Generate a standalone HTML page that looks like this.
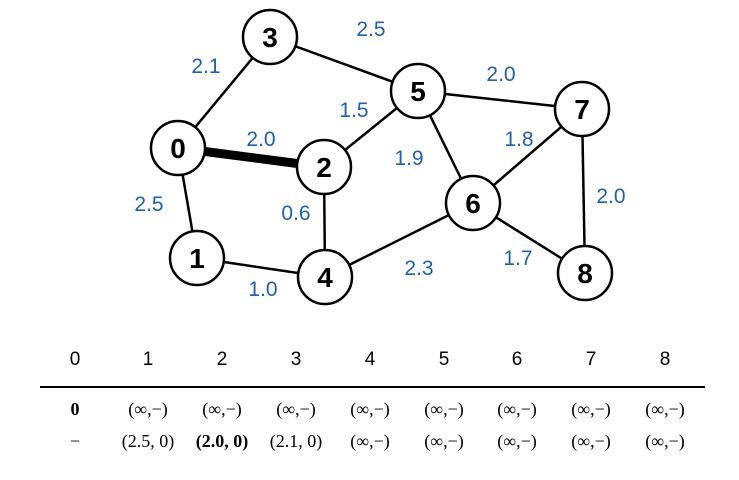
<!DOCTYPE html>
<html><head><style>
body{margin:0;background:#fff;width:739px;height:475px;overflow:hidden}
</style></head><body>
<svg width="739" height="475" xmlns="http://www.w3.org/2000/svg">
<g stroke="#000" stroke-width="2.5">
<line x1="178" y1="148" x2="270" y2="37"/>
<line x1="178" y1="148" x2="197" y2="258"/>
<line x1="270" y1="37" x2="418" y2="91"/>
<line x1="324" y1="167" x2="418" y2="91"/>
<line x1="324" y1="167" x2="325" y2="277"/>
<line x1="197" y1="258" x2="325" y2="277"/>
<line x1="325" y1="277" x2="473" y2="203"/>
<line x1="418" y1="91" x2="582" y2="109"/>
<line x1="418" y1="91" x2="473" y2="203"/>
<line x1="473" y1="203" x2="582" y2="109"/>
<line x1="473" y1="203" x2="585" y2="273"/>
<line x1="582" y1="109" x2="585" y2="273"/>
<line x1="178" y1="148" x2="324" y2="167" stroke-width="9"/>
</g>
<g fill="#fff" stroke="#000" stroke-width="2.5">
<circle cx="178" cy="148" r="27"/><circle cx="270" cy="37" r="27"/>
<circle cx="324" cy="167" r="27"/><circle cx="197" cy="258" r="27"/>
<circle cx="325" cy="277" r="27"/><circle cx="418" cy="91" r="27"/>
<circle cx="582" cy="109" r="27"/><circle cx="473" cy="203" r="27"/>
<circle cx="585" cy="273" r="27"/>
</g>
<g font-family="Liberation Sans,sans-serif" font-weight="bold" font-size="28" text-anchor="middle">
<text x="178" y="158">0</text><text x="270" y="47">3</text>
<text x="324" y="177">2</text><text x="197" y="268">1</text>
<text x="325" y="287">4</text><text x="418" y="101">5</text>
<text x="582" y="119">7</text><text x="473" y="213">6</text>
<text x="585" y="283">8</text>
</g>
<g font-family="Liberation Sans,sans-serif" font-size="21" fill="#1f5fb0" text-anchor="middle">
<text x="206" y="73">2.1</text><text x="371" y="36">2.5</text>
<text x="354" y="117">1.5</text><text x="261" y="146">2.0</text>
<text x="149" y="211">2.5</text><text x="296" y="220">0.6</text>
<text x="263" y="296">1.0</text><text x="409" y="165">1.9</text>
<text x="501" y="81">2.0</text><text x="519" y="146">1.8</text>
<text x="611" y="203">2.0</text><text x="419" y="275">2.3</text>
<text x="518" y="265">1.7</text>
</g>
<g font-family="Liberation Sans,sans-serif" font-size="19" text-anchor="middle">
<text x="75" y="365">0</text><text x="148" y="365">1</text><text x="222" y="365">2</text>
<text x="296" y="365">3</text><text x="370" y="365">4</text><text x="444" y="365">5</text>
<text x="517" y="365">6</text><text x="591" y="365">7</text><text x="665" y="365">8</text>
</g>
<line x1="40" y1="387" x2="705" y2="387" stroke="#000" stroke-width="2"/>
<g font-family="Liberation Serif,serif" font-size="18" text-anchor="middle">
<text x="75" y="415" font-weight="bold">0</text>
<text x="148" y="415">(∞,−)</text><text x="222" y="415">(∞,−)</text>
<text x="296" y="415">(∞,−)</text><text x="370" y="415">(∞,−)</text>
<text x="444" y="415">(∞,−)</text><text x="517" y="415">(∞,−)</text>
<text x="591" y="415">(∞,−)</text><text x="665" y="415">(∞,−)</text>
<text x="75" y="447">−</text>
<text x="148" y="447">(2.5, 0)</text><text x="222" y="447" font-weight="bold">(2.0, 0)</text>
<text x="296" y="447">(2.1, 0)</text><text x="370" y="447">(∞,−)</text>
<text x="444" y="447">(∞,−)</text><text x="517" y="447">(∞,−)</text>
<text x="591" y="447">(∞,−)</text><text x="665" y="447">(∞,−)</text>
</g>
</svg>
</body></html>
